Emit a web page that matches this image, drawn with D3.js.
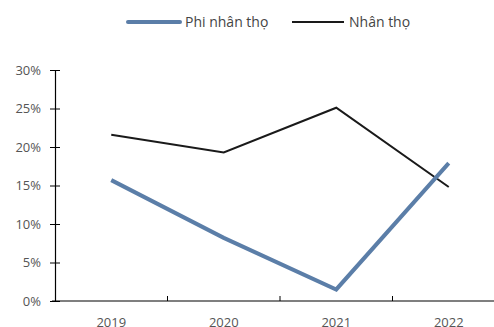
<!DOCTYPE html>
<html>
<head>
<meta charset="utf-8">
<script src="https://cdn.jsdelivr.net/npm/d3@7"></script>
<style>
  html, body { margin: 0; padding: 0; background: #fff; }
  svg { display: block; font-family: "Open Sans", "Noto Sans", sans-serif; }
</style>
</head>
<body>
<svg id="chart" width="494" height="327"></svg>
<script>
// Annual growth rates, percent
const years = ["2019", "2020", "2021", "2022"];
const nonLife = [15.7, 8.2, 1.5, 17.9];   // Phi nhân thọ
const life = [21.6, 19.3, 25.1, 14.8];    // Nhân thọ
const yTicks = [0, 5, 10, 15, 20, 25, 30];
const seriesNames = ["Phi nhân thọ", "Nhân thọ"];

const svg = d3.select("#chart");
const plotLeft = 55, plotTop = 70, plotBottom = 301, bandW = 112.5;

const x = d3.scaleBand().domain(years).range([plotLeft, plotLeft + bandW * years.length]).padding(0);
const y = d3.scaleLinear().domain([0, 30]).range([plotBottom, plotTop]);

// Y axis
const yAxis = svg.append("g").attr("transform", `translate(${plotLeft},0)`)
  .call(d3.axisLeft(y).tickValues(yTicks).tickFormat(d => d + "%").tickSizeInner(5).tickSizeOuter(0));
yAxis.select(".domain").attr("stroke", "#000").attr("stroke-width", 1.2);
yAxis.selectAll(".tick line").attr("x2", 5).attr("x1", -5).attr("stroke", "#000");
yAxis.selectAll(".tick text").attr("x", -14).attr("font-size", 13).attr("fill", "#555")
  .attr("font-family", "'Open Sans', sans-serif");

// X axis with tick marks between categories
const xg = svg.append("g").attr("transform", `translate(0,${plotBottom})`);
xg.append("line").attr("x1", plotLeft - 3).attr("x2", 494).attr("stroke", "#000").attr("stroke-width", 1.2);
xg.selectAll("line.sep").data(years.slice(1)).join("line")
  .attr("class", "sep")
  .attr("x1", d => x(d)).attr("x2", d => x(d))
  .attr("y1", 0).attr("y2", -5).attr("stroke", "#000");
xg.selectAll("text").data(years).join("text")
  .attr("x", d => x(d) + x.bandwidth() / 2)
  .attr("y", 26)
  .attr("text-anchor", "middle")
  .attr("font-size", 13).attr("fill", "#555")
  .text(d => d);

const cx = d => x(d) + x.bandwidth() / 2;
const line = d3.line().x(d => cx(d.year)).y(d => y(d.v));

svg.append("path")
  .datum(years.map((yr, i) => ({ year: yr, v: life[i] })))
  .attr("d", line).attr("fill", "none").attr("stroke", "#1a1a1a").attr("stroke-width", 2);

svg.append("path")
  .datum(years.map((yr, i) => ({ year: yr, v: nonLife[i] })))
  .attr("d", line).attr("fill", "none").attr("stroke", "#5b7ea8").attr("stroke-width", 4)
  .attr("stroke-linejoin", "miter");

// Legend
const legend = [
  { name: seriesNames[0], color: "#5b7ea8", w: 4, x1: 128, x2: 180, cap: "round" },
  { name: seriesNames[1], color: "#1a1a1a", w: 2, x1: 292, x2: 344, cap: "butt" }
];
const lg = svg.append("g");
legend.forEach(l => {
  lg.append("line").attr("x1", l.x1).attr("x2", l.x2).attr("y1", 22).attr("y2", 22)
    .attr("stroke", l.color).attr("stroke-width", l.w).attr("stroke-linecap", l.cap);
  lg.append("text").attr("x", l.x2 + 5).attr("y", 27).attr("font-size", 14).attr("fill", "#444").text(l.name);
});
</script>
</body>
</html>
